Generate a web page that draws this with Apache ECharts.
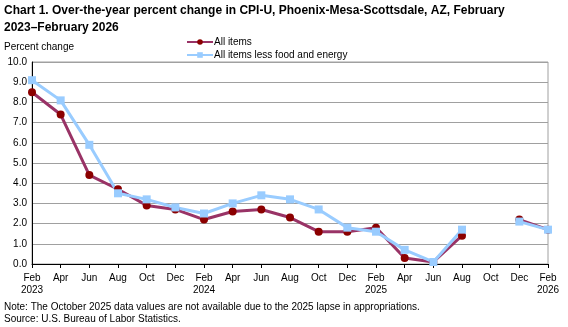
<!DOCTYPE html>
<html>
<head>
<meta charset="utf-8">
<script src="https://cdn.jsdelivr.net/npm/echarts@6/dist/echarts.min.js"></script>
<style>
  body { margin: 0; background: #fff; }
  #chart { width: 568px; height: 327px; }
</style>
</head>
<body>
<div id="chart"></div>
<script>
    // data
    var months = ['Feb\n2023','Apr','Jun','Aug','Oct','Dec','Feb\n2024','Apr','Jun','Aug','Oct','Dec','Feb\n2025','Apr','Jun','Aug','Oct','Dec','Feb\n2026'];
    var allItems = [8.5, 7.4, 4.4, 3.7, 2.9, 2.7, 2.2, 2.6, 2.7, 2.3, 1.6, 1.6, 1.8, 0.3, 0.1, 1.4, null, 2.2, 1.7];
    var lessFoodEnergy = [9.1, 8.1, 5.9, 3.5, 3.2, 2.8, 2.5, 3.0, 3.4, 3.2, 2.7, 1.8, 1.6, 0.7, 0.1, 1.7, null, 2.1, 1.7];

    var font = 'Liberation Sans, Arial, sans-serif';
    var chart = echarts.init(document.getElementById('chart'), null, { renderer: 'canvas' });
    chart.setOption({
        animation: false,
        textStyle: { fontFamily: font, color: '#000' },
        title: {
            text: 'Chart 1. Over-the-year percent change in CPI-U, Phoenix-Mesa-Scottsdale, AZ, February\n2023\u2013February 2026',
            left: 4,
            top: 2,
            padding: 0,
            textStyle: { fontSize: 12, fontWeight: 'bold', fontFamily: font, color: '#000', lineHeight: 17 }
        },
        graphic: [
            { type: 'text', left: 4, top: 42, style: { text: 'Percent change', font: '10px ' + font, fill: '#000' } },
            { type: 'text', left: 4, top: 301, style: { text: 'Note: The October 2025 data values are not available due to the 2025 lapse in appropriations.\nSource: U.S. Bureau of Labor Statistics.', font: '10px ' + font, fill: '#000', lineHeight: 12 } }
        ],
        legend: {
            orient: 'vertical',
            left: 181,
            top: 32,
            itemWidth: 26,
            itemHeight: 7,
            itemGap: 3,
            textStyle: { fontSize: 10, fontFamily: font, color: '#000', padding: [0, 0, 0, -4] },
            data: ['All items', 'All items less food and energy']
        },
        grid: {
            left: 32,
            right: 20,
            top: 62,
            bottom: 63,
            show: true,
            borderColor: '#a0a0a0',
            borderWidth: 1
        },
        xAxis: {
            type: 'category',
            data: months,
            boundaryGap: false,
            axisLine: { lineStyle: { color: '#000', width: 1 } },
            axisTick: { show: true, length: 4, alignWithLabel: true, lineStyle: { color: '#000' } },
            axisLabel: { interval: 0, fontSize: 10, fontFamily: font, color: '#000', lineHeight: 12, margin: 8 },
            splitLine: { show: false }
        },
        yAxis: {
            type: 'value',
            min: 0,
            max: 10,
            interval: 1,
            axisLine: { show: true, lineStyle: { color: '#000', width: 1 } },
            axisTick: { show: false },
            axisLabel: { fontSize: 10, fontFamily: font, color: '#000', margin: 5,
                formatter: function (v) { return v.toFixed(1); } },
            splitLine: { show: true, lineStyle: { color: '#a0a0a0', width: 1 } }
        },
        series: [
            {
                name: 'All items',
                type: 'line',
                data: allItems,
                symbol: 'circle',
                symbolSize: 8,
                connectNulls: false,
                lineStyle: { color: '#993366', width: 3 },
                itemStyle: { color: '#8b0000', borderWidth: 0 }
            },
            {
                name: 'All items less food and energy',
                type: 'line',
                data: lessFoodEnergy,
                symbol: 'rect',
                symbolSize: 8,
                connectNulls: false,
                lineStyle: { color: '#99ccff', width: 3 },
                itemStyle: { color: '#99ccff', borderWidth: 0 }
            }
        ]
    });
</script>
</body>
</html>
